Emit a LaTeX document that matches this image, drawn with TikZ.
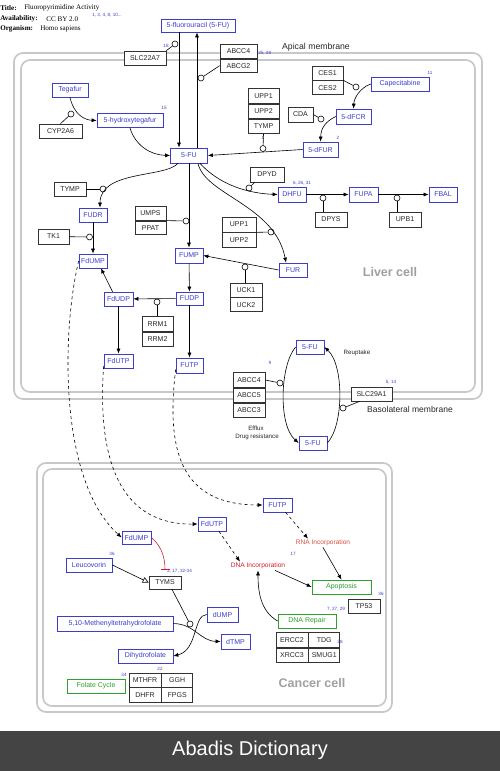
\documentclass[tikz,border=0pt]{standalone}
\usepackage{fontspec}
\setmainfont{Liberation Serif}
\setsansfont{Liberation Sans}
\usetikzlibrary{positioning,arrows.meta}
\definecolor{mblue}{RGB}{60,60,205}
\definecolor{pgreen}{RGB}{45,160,45}
\definecolor{dred}{RGB}{210,30,50}
\definecolor{rred}{RGB}{215,80,60}
\definecolor{memb}{RGB}{200,200,200}
\definecolor{lbl}{RGB}{160,160,160}
\definecolor{band}{RGB}{68,68,68}
\tikzset{
  metab/.style={draw=mblue,text=mblue,fill=white,font=\sffamily\fontsize{7}{8}\selectfont,inner sep=1pt,minimum height=14,line width=0.7pt},
  gene/.style={draw=black!80,text=black!85,fill=white,font=\sffamily\fontsize{7}{8}\selectfont,inner sep=1pt,minimum height=14,line width=0.7pt},
  pheno/.style={draw=pgreen,text=pgreen,fill=white,font=\sffamily\fontsize{7}{8}\selectfont,inner sep=1pt,minimum height=14,line width=0.7pt},
  cat/.style={circle,draw,fill=white,inner sep=0pt,minimum size=6},
  refn/.style={text=mblue,font=\sffamily\fontsize{4.6}{5}\selectfont,inner sep=0pt},
  conv/.style={-{Latex[length=5pt,width=4pt]}},
  memline/.style={draw=memb,line width=1.7pt,rounded corners=9pt},
  note/.style={text=black!85,font=\sffamily\fontsize{6.2}{7}\selectfont,inner sep=0pt},
  cell/.style={text=lbl,font=\sffamily\bfseries\fontsize{12.5}{14}\selectfont,inner sep=0pt},
  hdr/.style={font=\fontsize{7.1}{8}\selectfont,inner sep=0pt,anchor=west},
}
\begin{document}
\begin{tikzpicture}[x=1pt,y=-1pt,line width=0.6pt]
\useasboundingbox (0,0) rectangle (500,771);
\draw[memline] (14,53) rectangle (482,399);
\draw[memline] (21,60) rectangle (475,392);
\draw[memline] (37,463) rectangle (392,712);
\draw[memline] (43,469) rectangle (386,706);

\node[hdr] (ttl) at (0,8) {\textbf{Title:}};
\node[hdr] (ttlv) at (24,8) {Fluoropyrimidine Activity};
\node[hdr] (avl) at (0,19) {\textbf{Availability:}};
\node[hdr] (avlv) at (46,19) {CC BY 2.0};
\node[hdr] (org) at (0,29) {\textbf{Organism:}};
\node[hdr] (orgv) at (40,29) {Homo sapiens};
\node[refn,anchor=west] (nref) at (92,15) {1, 3, 4, 8, 10...};

\node[metab,minimum width=74,minimum height=13] (fluor) at (198,25.5) {5-fluorouracil (5-FU)};
\node[gene,minimum width=42] (slc22a7) at (145,58) {SLC22A7};
\node[refn] (n18) at (166,46) {18};
\node[cat] (cslc) at (175,44) {};
\node[gene,minimum width=37,minimum height=13.5] (abcc4) at (238.5,51.5) {ABCC4};
\node[gene,minimum width=37,minimum height=13.5,below=0pt of abcc4] (abcg2) {ABCG2};
\node[refn,anchor=west] (n25) at (258,53) {25, 28};
\node[cat] (cabc) at (201,78) {};
\node[note,font=\sffamily\fontsize{8.7}{10}\selectfont] (apical) at (316,47) {Apical membrane};

\node[metab,minimum width=36] (tegafur) at (70,90) {Tegafur};
\node[metab,minimum width=66] (hydroxy) at (130,120.5) {5-hydroxytegafur};
\node[refn] (n15) at (164,108) {15};
\node[gene,minimum width=43] (cyp2a6) at (60.5,131) {CYP2A6};
\node[cat] (ccyp) at (71,114) {};

\node[gene,minimum width=31] (ces1) at (327.5,73) {CES1};
\node[gene,minimum width=31,below=0pt of ces1] (ces2) {CES2};
\node[cat] (cces) at (356,87) {};
\node[metab,minimum width=58] (capec) at (400,84) {Capecitabine};
\node[refn] (n11) at (430,73) {11};
\node[metab,minimum width=35,minimum height=15] (dfcr) at (353.5,116.5) {5-dFCR};
\node[gene,minimum width=25,minimum height=15] (cda) at (300.5,114.5) {CDA};
\node[cat] (ccda) at (321,119) {};
\node[metab,minimum width=35,minimum height=15] (dfur) at (320.5,149.5) {5-dFUR};
\node[refn] (n2) at (338,138) {2};
\node[gene,minimum width=31,minimum height=14.5] (upp1a) at (263.5,96) {UPP1};
\node[gene,minimum width=31,minimum height=14.5,below=0pt of upp1a] (upp2a) {UPP2};
\node[gene,minimum width=31,minimum height=14.5,below=0pt of upp2a] (tympa) {TYMP};
\node[refn] (nu1) at (263,138) {1};
\node[cat] (cupp) at (263,148.5) {};

\node[metab,minimum width=37,minimum height=15] (fu) at (189,155.5) {5-FU};
\node[gene,minimum width=34,minimum height=15] (dpyd) at (267,174.5) {DPYD};
\node[cat] (cdpyd) at (249,188) {};
\node[metab,minimum width=28,minimum height=15] (dhfu) at (292,194.5) {DHFU};
\node[refn] (n6) at (302,183) {6, 26, 31};
\node[metab,minimum width=29,minimum height=15] (fupa) at (363.5,194.5) {FUPA};
\node[metab,minimum width=28,minimum height=15] (fbal) at (443,194.5) {FBAL};
\node[cat] (cdpys) at (323,198) {};
\node[gene,minimum width=32,minimum height=15] (dpys) at (331,219.5) {DPYS};
\node[cat] (cupb) at (397,198) {};
\node[gene,minimum width=32,minimum height=15] (upb1) at (405,219.5) {UPB1};

\node[gene,minimum width=32] (tymp) at (70,189) {TYMP};
\node[cat] (ctymp) at (103,189) {};
\node[metab,minimum width=28] (fudr) at (93,215) {FUDR};
\node[gene,minimum width=31,minimum height=15] (tk1) at (53.5,236.5) {TK1};
\node[cat] (ctk1) at (89.5,237) {};
\node[metab,minimum width=28] (fdump) at (93,261) {FdUMP};
\node[gene,minimum width=31,minimum height=13.5] (umps) at (150.5,213.5) {UMPS};
\node[gene,minimum width=31,minimum height=13.5,below=0pt of umps] (ppat) {PPAT};
\node[cat] (cumps) at (186,221) {};
\node[gene,minimum width=34,minimum height=15] (upp1b) at (239,224.5) {UPP1};
\node[gene,minimum width=34,minimum height=15,below=0pt of upp1b] (upp2b) {UPP2};
\node[cat] (cuppb) at (271,232) {};
\node[metab,minimum width=28] (fur) at (293,270) {FUR};
\node[metab,minimum width=28,minimum height=15] (fump) at (189,255.5) {FUMP};
\node[cat] (cuck) at (245,267) {};
\node[gene,minimum width=32] (uck1) at (246,290) {UCK1};
\node[gene,minimum width=32,below=0pt of uck1] (uck2) {UCK2};
\node[metab,minimum width=27,minimum height=13] (fudp) at (189.5,298.5) {FUDP};
\node[cat] (crrm) at (157,302) {};
\node[gene,minimum width=31,minimum height=14.5] (rrm1) at (157.5,324) {RRM1};
\node[gene,minimum width=31,minimum height=14.5,below=0pt of rrm1] (rrm2) {RRM2};
\node[metab,minimum width=29] (fdudp) at (118.5,299) {FdUDP};
\node[metab,minimum width=29] (fdutp) at (118.5,361) {FdUTP};
\node[metab,minimum width=27,minimum height=15] (futp) at (189.5,365.5) {FUTP};
\node[cell] (liver) at (390,272) {Liver cell};

\node[metab,minimum width=28] (fuup) at (310,347) {5-FU};
\node[metab,minimum width=28] (fulow) at (313,443) {5-FU};
\node[gene,minimum width=32,minimum height=14.5] (abcc4b) at (249,380) {ABCC4};
\node[gene,minimum width=32,minimum height=14.5,below=0pt of abcc4b] (abcc5) {ABCC5};
\node[gene,minimum width=32,minimum height=14.5,below=0pt of abcc5] (abcc3) {ABCC3};
\node[refn] (n9) at (270,363) {9};
\node[cat] (cabcb) at (280,383) {};
\node[gene,minimum width=41] (slc29a1) at (371.5,394) {SLC29A1};
\node[refn] (n514) at (391,382) {5, 14};
\node[cat] (cslc29) at (343,408) {};
\node[note] (reup) at (357,353) {Reuptake};
\node[note] (efflux) at (256,428) {Efflux};
\node[note] (drug) at (257,437) {Drug resistance};
\node[note,font=\sffamily\fontsize{8.5}{10}\selectfont] (baso) at (410,409) {Basolateral membrane};

\node[metab,minimum width=29,minimum height=13] (fdump2) at (136.5,537.5) {FdUMP};
\node[metab,minimum width=28] (fdutp2) at (212,524) {FdUTP};
\node[metab,minimum width=29] (futp2) at (277.5,505) {FUTP};
\node[text=dred,font=\sffamily\fontsize{6.6}{8}\selectfont,inner sep=1pt] (dnainc) at (258,566) {DNA Incorporation};
\node[text=rred,font=\sffamily\fontsize{6.6}{8}\selectfont,inner sep=1pt] (rnainc) at (323,543) {RNA Incorporation};
\node[refn] (n17) at (293,554) {17};
\node[pheno,minimum width=59] (apop) at (341.5,587) {Apoptosis};
\node[refn] (n36a) at (381,594) {36};
\node[gene,minimum width=32] (tp53) at (364,606) {TP53};
\node[refn] (n7) at (336,609) {7, 27, 29};
\node[pheno,minimum width=58] (dnarep) at (307,621) {DNA Repair};
\node[gene,minimum width=32,minimum height=14.5] (ercc2) at (292,640) {ERCC2};
\node[gene,minimum width=31,minimum height=14.5,right=0pt of ercc2] (tdg) {TDG};
\node[gene,minimum width=32,minimum height=14.5,below=0pt of ercc2] (xrcc3) {XRCC3};
\node[gene,minimum width=31,minimum height=14.5,right=0pt of xrcc3] (smug1) {SMUG1};
\node[refn] (n28) at (340,642) {28};
\node[metab,minimum width=46] (leuco) at (89,565) {Leucovorin};
\node[refn] (n36b) at (112,554) {36};
\node[gene,minimum width=32,minimum height=13] (tyms) at (165,582.5) {TYMS};
\node[refn,anchor=west] (n2b) at (167,571) {2, 17, 32-34};
\node[metab,minimum width=116,minimum height=15] (mthf) at (115,623.5) {5,10-Methenyltetrahydrofolate};
\node[metab,minimum width=31,minimum height=15] (dump) at (222.5,614.5) {dUMP};
\node[metab,minimum width=29,minimum height=15] (dtmp) at (235.5,641.5) {dTMP};
\node[metab,minimum width=55] (dhf) at (145.5,656) {Dihydrofolate};
\node[pheno,minimum width=58] (folate) at (96,686) {Folate Cycle};
\node[gene,minimum width=32] (mthfr) at (145,680) {MTHFR};
\node[gene,minimum width=31,right=0pt of mthfr] (ggh) {GGH};
\node[gene,minimum width=32,minimum height=15,below=0pt of mthfr] (dhfr) {DHFR};
\node[gene,minimum width=31,minimum height=15,right=0pt of dhfr] (fpgs) {FPGS};
\node[refn] (n22) at (160,669) {22};
\node[refn] (n34) at (124,675) {34};
\node[cell] (cancer) at (312,683) {Cancer cell};

\draw[conv] ([xshift=-19pt]fluor.south) -- ([xshift=-10pt]fu.north);
\draw[conv] ([xshift=8pt]fu.north) -- ([xshift=-1pt]fluor.south);
\draw (slc22a7.north east) -- (cslc);
\draw (abcg2.west) -- (cabc);
\draw[conv] (tegafur.south) .. controls (74,115) and (85,120) .. (hydroxy.west);
\draw (cyp2a6.north) -- (ccyp);
\draw[conv] (hydroxy.south) .. controls (135,145) and (150,155) .. (fu.west);
\draw (ces1.south east) -- (cces);
\draw[conv] (capec.west) .. controls (360,88) and (354,98) .. (dfcr.north);
\draw (cda.east) -- (ccda);
\draw[conv] (dfcr.west) .. controls (325,122) and (321,128) .. (dfur.north);
\draw[conv] (dfur.west) -- (fu.east);
\draw (tympa.south) -- (cupp);
\draw[conv] ([xshift=11pt]fu.south) .. controls (215,180) and (240,193) .. (dhfu.west);
\draw ([xshift=5pt]dpyd.south west) -- (cdpyd);
\draw[conv] (dhfu) -- (fupa);
\draw[conv] (fupa) -- (fbal);
\draw (dpys.north -| cdpys) -- (cdpys);
\draw (upb1.north -| cupb) -- (cupb);
\draw[conv] ([xshift=-11pt]fu.south) .. controls (165,178) and (100,170) .. ([xshift=7pt]fudr.north);
\draw (tymp) -- (ctymp);
\draw[conv] (fudr) -- (fdump);
\draw (tk1) -- (ctk1);
\draw[conv] (fu) -- (fump);
\draw (umps.south east) -- (cumps);
\draw[conv] ([xshift=9pt]fu.south) .. controls (205,195) and (275,205) .. ([xshift=-7pt]fur.north);
\draw (upp1b.south east) -- (cuppb);
\draw[conv] (fur.west) -- (fump.east);
\draw (uck1.north -| cuck) -- (cuck);
\draw[conv] (fump) -- (fudp);
\draw[conv] (fudp) -- (fdudp);
\draw (rrm1.north -| crrm) -- (crrm);
\draw[conv] (fdudp) -- (fdutp);
\draw[conv] (fudp) -- (futp);
\draw[conv] ([xshift=-6pt]fdudp.north) -- ([xshift=8pt]fdump.south);

\draw[conv] (fuup.west) .. controls (280,365) and (278,425) .. (fulow.west);
\draw[conv] (fulow.east) .. controls (344,425) and (344,365) .. (fuup.east);
\draw (abcc4b.east) -- (cabcb);
\draw ([xshift=9pt]slc29a1.south west) -- (cslc29);

\draw[conv,dashed] (fdump.west) .. controls (62,330) and (58,480) .. (fdump2.west);
\draw[conv,dashed] ([yshift=-5pt]fdutp.west) .. controls (97,460) and (120,525) .. (fdutp2.west);
\draw[conv,dashed] ([yshift=-4pt]futp.west) .. controls (166,450) and (180,505) .. (futp2.west);
\draw[conv,dashed] ([xshift=7pt]fdutp2.south) -- ([xshift=-18pt]dnainc.north);
\draw[conv,dashed] ([xshift=8pt]futp2.south) -- ([xshift=-15pt]rnainc.north);
\draw[conv] ([xshift=17pt]dnainc.south) -- (apop.west);
\draw[conv] (rnainc.south) -- (apop.north);
\draw[conv] (dnarep.west) .. controls (262,612) and (258,595) .. (dnainc.south);
\draw[-{Triangle[open,length=6pt,width=6pt]}] (leuco.east) -- (tyms.west);
\draw[dred,-{Bar[width=9pt]}] (fdump2.east) .. controls (160,545) and (165,555) .. ([yshift=6pt]tyms.north);
\draw[conv] (mthf.east) .. controls (195,624) and (200,641) .. (dtmp.west);
\draw[conv] (dump.west) .. controls (193,615) and (198,650) .. (dhf.east);
\node[cat] (ctyms) at (190,624) {};
\draw ([xshift=7pt]tyms.south) -- (ctyms);

\fill[band] (0,731) rectangle (500,771);
\node[text=white,font=\sffamily\fontsize{20}{24}\selectfont] (abadis) at (250,750) {Abadis Dictionary};
\end{tikzpicture}
\end{document}
